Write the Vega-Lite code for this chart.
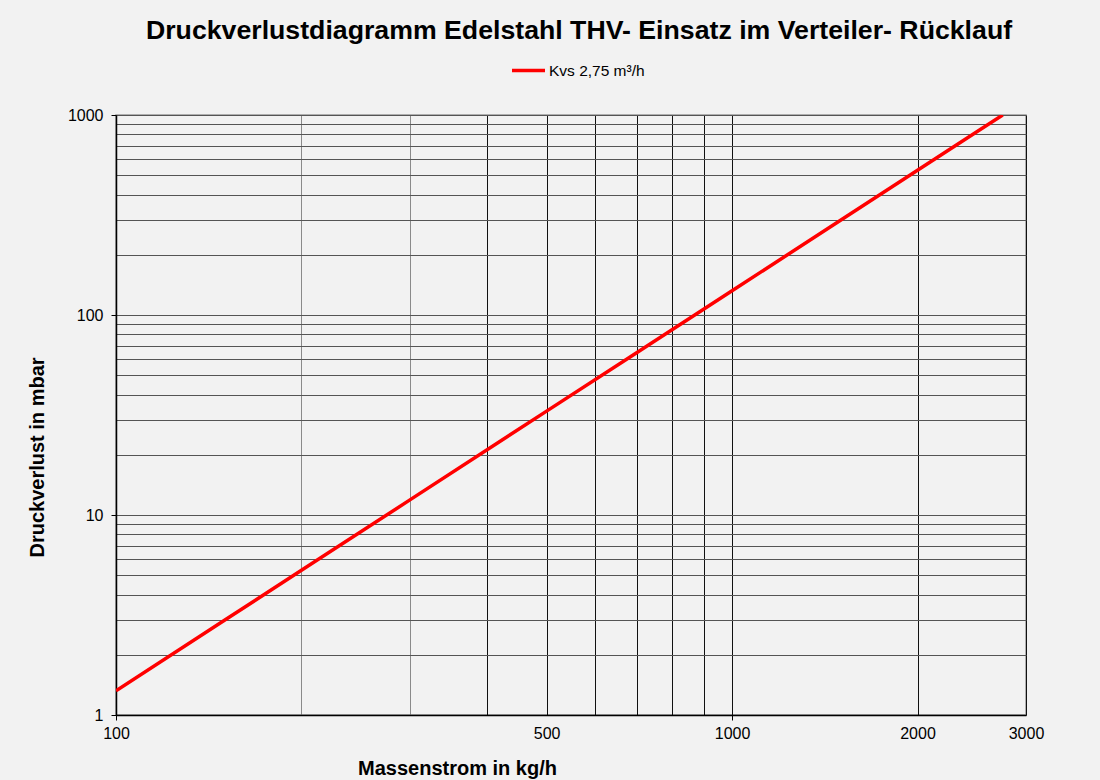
{
  "$schema": "https://vega.github.io/schema/vega-lite/v6.json",
  "autosize": {"type": "none"},
  "width": 910,
  "height": 600,
  "padding": {"left": 116, "top": 115, "right": 74, "bottom": 65},
  "background": "#f2f2f2",
  "title": {
    "text": "Druckverlustdiagramm Edelstahl THV- Einsatz im Verteiler- Rücklauf",
    "font": "Liberation Sans",
    "fontSize": 26.7,
    "fontWeight": "bold",
    "color": "#000000",
    "anchor": "middle",
    "dx": 8,
    "offset": 7
  },
  "config": {
    "view": {"stroke": "#999999", "strokeWidth": 1.5},
    "axis": {
      "labelFont": "Liberation Sans",
      "labelFontSize": 16,
      "labelColor": "#000000",
      "titleFont": "Liberation Sans",
      "titleFontSize": 20,
      "titleFontWeight": "bold",
      "titleColor": "#000000",
      "domainColor": "#000000",
      "domainWidth": 1.5,
      "tickColor": "#000000",
      "tickSize": 5,
      "gridWidth": 1
    }
  },
  "data": {
    "values": [
      {"m": 100, "dp": 1.322, "serie": "Kvs 2,75 m³/h"},
      {"m": 150, "dp": 2.975, "serie": "Kvs 2,75 m³/h"},
      {"m": 200, "dp": 5.289, "serie": "Kvs 2,75 m³/h"},
      {"m": 300, "dp": 11.90, "serie": "Kvs 2,75 m³/h"},
      {"m": 500, "dp": 33.06, "serie": "Kvs 2,75 m³/h"},
      {"m": 700, "dp": 64.79, "serie": "Kvs 2,75 m³/h"},
      {"m": 1000, "dp": 132.2, "serie": "Kvs 2,75 m³/h"},
      {"m": 1500, "dp": 297.5, "serie": "Kvs 2,75 m³/h"},
      {"m": 2000, "dp": 528.9, "serie": "Kvs 2,75 m³/h"},
      {"m": 2500, "dp": 826.4, "serie": "Kvs 2,75 m³/h"},
      {"m": 2750, "dp": 1000, "serie": "Kvs 2,75 m³/h"}
    ]
  },
  "mark": {"type": "line", "strokeWidth": 3.5, "clip": true},
  "encoding": {
    "x": {
      "field": "m",
      "type": "quantitative",
      "scale": {"type": "log", "domain": [100, 3000], "nice": false},
      "axis": {
        "title": "Massenstrom in kg/h",
        "titleX": 341,
        "titleY": 53,
        "titleBaseline": "middle",
        "values": [100, 200, 300, 400, 500, 600, 700, 800, 900, 1000, 2000, 3000],
        "format": "d",
        "labelExpr": "indexof([100,500,1000,2000,3000], datum.value) >= 0 ? datum.label : ''",
        "labelPadding": 5,
        "labelFlush": false,
        "labelOverlap": false,
        "tickOpacity": {"condition": {"test": "datum.value == 100 || datum.value == 1000", "value": 1}, "value": 0},
        "grid": true,
        "gridColor": {"condition": {"test": "datum.value == 200 || datum.value == 300", "value": "#8a8a8a"}, "value": "#111111"}
      }
    },
    "y": {
      "field": "dp",
      "type": "quantitative",
      "scale": {"type": "log", "domain": [1, 1000], "nice": false},
      "axis": {
        "title": "Druckverlust in mbar",
        "titleX": -79,
        "titleY": 342,
        "titleBaseline": "middle",
        "values": [1, 2, 3, 4, 5, 6, 7, 8, 9, 10, 20, 30, 40, 50, 60, 70, 80, 90, 100, 200, 300, 400, 500, 600, 700, 800, 900, 1000],
        "format": "d",
        "labelExpr": "indexof([1,10,100,1000], datum.value) >= 0 ? datum.label : ''",
        "labelPadding": 8,
        "labelFlush": false,
        "labelOverlap": false,
        "tickOpacity": {"condition": {"test": "datum.value == 1 || datum.value == 10 || datum.value == 100 || datum.value == 1000", "value": 1}, "value": 0},
        "grid": true,
        "gridColor": "#555555"
      }
    },
    "color": {
      "field": "serie",
      "type": "nominal",
      "scale": {"domain": ["Kvs 2,75 m³/h"], "range": ["#ff0000"]},
      "legend": {
        "title": null,
        "orient": "none",
        "legendX": 394,
        "legendY": -63,
        "symbolType": "stroke",
        "symbolStrokeWidth": 3.5,
        "symbolSize": 1089,
        "labelFont": "Liberation Sans",
        "labelFontSize": 15.5,
        "labelColor": "#000000",
        "labelOffset": 2
      }
    }
  }
}
